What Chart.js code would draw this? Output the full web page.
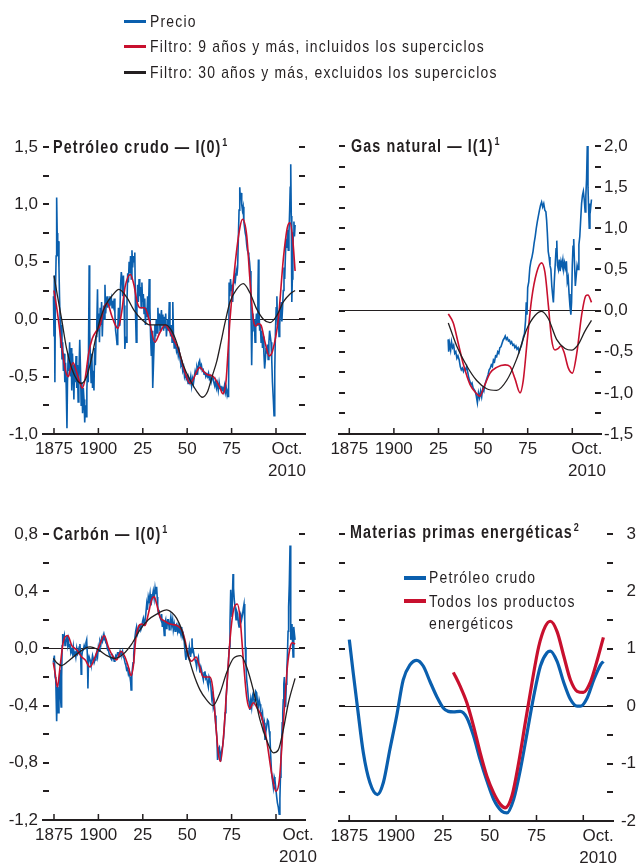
<!DOCTYPE html>
<html>
<head>
<meta charset="utf-8">
<script src="https://cdn.jsdelivr.net/npm/chart.js@4/dist/chart.umd.min.js"></script>
<style>
  body { margin: 0; background: #fff; width: 636px; height: 864px; position: relative; overflow: hidden;
         font-family: 'Liberation Sans', Arial, sans-serif; color: #231f20; }
  canvas { position: absolute; left: 0; top: 0; }
  .t { position: absolute; white-space: nowrap; font-size: 17px; line-height: 17px; letter-spacing: 1.45px;
       transform: scaleX(0.82); transform-origin: 0 0; }
  .h { position: absolute; white-space: nowrap; font-size: 17.5px; line-height: 17.5px; letter-spacing: 1.35px;
       font-weight: bold; transform: scaleX(0.82); transform-origin: 0 0; }
  .s { font-size: 11px; line-height: 0; position: relative; top: -7px; letter-spacing: 0; margin-left: 1px; }
  .k { position: absolute; width: 22px; height: 3px; }
</style>
</head>
<body>
<canvas id="oil" width="636" height="864"></canvas>
<canvas id="gas" width="636" height="864"></canvas>
<canvas id="coal" width="636" height="864"></canvas>
<canvas id="energy" width="636" height="864"></canvas>

<!-- leyenda general -->
<div class="k" style="left:124px;top:19.8px;background:#0a5fae"></div>
<div class="t" style="left:150px;top:13px">Precio</div>
<div class="k" style="left:124px;top:44.5px;background:#c8102e"></div>
<div class="t" style="left:150px;top:37.7px">Filtro: 9 años y más, incluidos los superciclos</div>
<div class="k" style="left:124px;top:70.5px;background:#231f20"></div>
<div class="t" style="left:150px;top:63.7px">Filtro: 30 años y más, excluidos los superciclos</div>

<!-- títulos -->
<div class="h" style="left:53px;top:138.5px">Petróleo crudo — I(0)<span class="s">1</span></div>
<div class="h" style="left:351px;top:137.5px">Gas natural — I(1)<span class="s">1</span></div>
<div class="h" style="left:53px;top:525.5px">Carbón — I(0)<span class="s">1</span></div>
<div class="h" style="left:350px;top:523.5px">Materias primas energéticas<span class="s">2</span></div>

<!-- leyenda del último panel -->
<div class="k" style="left:404px;top:575.5px;height:4px;background:#0a5fae"></div>
<div class="t" style="left:429px;top:569px">Petróleo crudo</div>
<div class="k" style="left:404px;top:599px;height:4px;background:#c8102e"></div>
<div class="t" style="left:429px;top:593px">Todos los productos</div>
<div class="t" style="left:429px;top:614.6px">energéticos</div>

<script>
// Ejes compartidos
const xTickYears = [1875, 1900, 1925, 1950, 1975, 2000];
const xTickLabels = ['1875', '1900', '25', '50', '75', ['Oct.', '2010']];

// Petróleo crudo
const oilYTicks = [-1, -0.75, -0.5, -0.25, 0, 0.25, 0.5, 0.75, 1, 1.25, 1.5];
const oilYLabels = ['-1,0', '', '-0,5', '', '0,0', '', '0,5', '', '1,0', '', '1,5'];
const oilPrice = [
  [1874.7,0.2],[1875.0,-0.15],[1875.2,0.38],[1875.5,-0.55],[1875.8,0.2],[1876.2,0.55],[1876.5,1.06],[1876.8,0.75],
  [1877.1,0.55],[1877.4,0.68],[1877.8,0.45],[1878.1,0.2],[1878.4,0.02],[1878.8,-0.25],[1879.1,-0.05],[1879.5,-0.35],
  [1879.9,-0.2],[1880.3,-0.45],[1880.7,-0.3],[1881.1,-0.55],[1881.5,-0.38],[1881.9,-0.6],[1882.3,-0.95],[1882.6,-0.55],
  [1883.0,-0.3],[1883.4,-0.45],[1883.8,-0.2],[1884.2,-0.5],[1884.6,-0.25],[1885.0,-0.62],[1885.4,-0.3],[1885.8,-0.45],
  [1886.2,-0.7],[1886.6,-0.4],[1887.0,-0.55],[1887.4,-0.32],[1887.8,-0.6],[1888.2,-0.4],[1888.6,-0.72],[1889.0,-0.5],
  [1889.5,-0.18],[1889.9,-0.42],[1890.3,-0.75],[1890.7,-0.55],[1891.1,-0.82],[1891.5,-0.6],[1891.9,-0.7],[1892.3,-0.9],
  [1892.7,-0.75],[1893.1,-0.85],[1893.5,-0.62],[1893.9,-0.4],[1894.3,-0.55],[1894.8,0.47],[1895.1,-0.1],[1895.5,-0.35],
  [1895.9,-0.55],[1896.3,-0.3],[1896.7,-0.6],[1897.1,-0.45],[1897.5,-0.62],[1897.9,-0.25],[1898.3,-0.4],[1898.7,-0.15],
  [1899.1,-0.05],[1899.5,0.26],[1899.8,-0.1],[1900.2,0.05],[1900.6,-0.2],[1901.0,0.1],[1901.4,-0.05],[1901.8,0.15],
  [1902.2,-0.15],[1902.6,0.05],[1903.0,0.12],[1903.4,0.0],[1903.7,0.3],[1904.1,0.05],[1904.5,0.15],[1904.9,0.2],
  [1905.3,0.1],[1905.7,0.18],[1906.1,0.12],[1906.5,0.2],[1906.9,0.15],[1907.3,0.18],[1907.7,0.1],[1908.1,0.16],
  [1908.5,0.12],[1908.9,0.18],[1909.3,0.05],[1909.7,-0.1],[1910.1,-0.15],[1910.5,-0.22],[1910.9,-0.1],[1911.3,0.1],
  [1911.7,-0.05],[1912.1,0.05],[1912.5,0.3],[1912.9,0.41],[1913.3,0.35],[1913.7,0.2],[1914.1,0.38],[1914.5,0.12],
  [1914.9,-0.26],[1915.3,-0.15],[1915.7,-0.2],[1916.1,0.15],[1916.5,0.4],[1916.9,0.32],[1917.3,0.5],[1917.7,0.4],
  [1918.1,0.55],[1918.5,0.35],[1918.9,0.6],[1919.3,0.45],[1919.7,0.55],[1920.1,0.5],[1920.5,0.58],[1920.9,0.05],
  [1921.3,-0.2],[1921.7,0.1],[1922.1,0.3],[1922.5,0.15],[1922.9,0.35],[1923.3,0.2],[1923.7,0.28],[1924.1,0.1],
  [1924.5,0.32],[1924.9,0.15],[1925.3,0.22],[1925.7,0.05],[1926.1,0.18],[1926.5,-0.05],[1926.9,0.1],[1927.3,0.02],
  [1927.7,0.2],[1928.1,0.0],[1928.6,0.35],[1929.0,0.1],[1929.4,-0.15],[1929.8,-0.32],[1930.2,-0.1],[1930.6,-0.6],
  [1931.0,-0.4],[1931.4,-0.2],[1931.8,-0.05],[1932.2,-0.15],[1932.6,0.0],[1933.0,-0.12],[1933.5,0.1],[1933.9,-0.05],
  [1934.3,0.05],[1934.7,-0.1],[1935.1,0.0],[1935.5,0.08],[1935.9,-0.05],[1936.3,0.04],[1936.7,-0.1],[1937.1,0.02],
  [1937.5,-0.08],[1937.9,0.05],[1938.3,-0.15],[1938.7,-0.05],[1939.1,0.0],[1939.5,-0.1],[1939.9,0.15],[1940.3,-0.1],
  [1940.7,-0.15],[1941.1,-0.05],[1941.5,-0.2],[1941.9,0.15],[1942.3,-0.15],[1942.7,-0.25],[1943.1,-0.2],[1943.5,-0.22],
  [1944.0,-0.28],[1944.5,-0.25],[1945.0,-0.32],[1945.5,-0.28],[1946.0,-0.35],[1946.5,-0.4],[1947.0,-0.38],[1947.5,-0.45],
  [1948.0,-0.42],[1948.5,-0.5],[1949.0,-0.47],[1949.5,-0.52],[1950.0,-0.5],[1950.5,-0.56],[1951.0,-0.52],[1951.5,-0.55],
  [1952.0,-0.5],[1952.5,-0.58],[1953.0,-0.52],[1953.5,-0.56],[1954.0,-0.5],[1954.5,-0.45],[1955.0,-0.48],[1955.5,-0.42],
  [1956.0,-0.45],[1956.5,-0.38],[1957.0,-0.36],[1957.5,-0.42],[1958.0,-0.4],[1958.5,-0.45],[1959.0,-0.44],[1959.5,-0.48],
  [1960.0,-0.46],[1960.5,-0.5],[1961.0,-0.48],[1961.5,-0.5],[1962.0,-0.47],[1962.5,-0.52],[1963.0,-0.5],[1963.5,-0.55],
  [1964.0,-0.52],[1964.5,-0.5],[1965.0,-0.55],[1965.5,-0.58],[1966.0,-0.54],[1966.5,-0.6],[1967.0,-0.56],[1967.5,-0.62],
  [1968.0,-0.55],[1968.5,-0.6],[1969.0,-0.58],[1969.5,-0.62],[1970.0,-0.6],[1970.5,-0.63],[1971.0,-0.58],[1971.5,-0.64],
  [1972.0,-0.6],[1972.5,-0.66],[1973.0,-0.62],[1973.3,-0.68],[1973.6,0.32],[1974.0,0.2],[1974.4,0.35],[1974.8,0.25],
  [1975.2,0.3],[1975.6,0.15],[1976.0,0.3],[1976.4,0.32],[1976.8,0.4],[1977.2,0.35],[1977.6,0.42],[1978.0,0.38],
  [1978.4,0.45],[1978.8,0.7],[1979.2,0.95],[1979.6,1.15],[1979.9,1.05],[1980.3,1.1],[1980.7,1.0],[1981.1,0.95],
  [1981.5,0.98],[1981.9,0.85],[1982.3,0.8],[1982.7,0.75],[1983.1,0.72],[1983.5,0.65],[1983.9,0.6],[1984.3,0.58],
  [1984.7,0.55],[1985.1,0.5],[1985.5,0.42],[1985.9,0.15],[1986.3,-0.4],[1986.6,-0.1],[1987.0,0.05],[1987.4,-0.05],
  [1987.8,0.0],[1988.2,-0.2],[1988.6,-0.05],[1989.0,0.05],[1989.4,-0.05],[1989.8,0.2],[1990.1,0.52],[1990.4,0.1],
  [1990.8,-0.1],[1991.2,-0.05],[1991.6,-0.2],[1992.0,-0.1],[1992.4,-0.25],[1992.8,-0.15],[1993.2,-0.3],[1993.6,-0.43],
  [1994.0,-0.35],[1994.4,-0.25],[1994.8,-0.3],[1995.2,-0.22],[1995.6,-0.35],[1996.0,-0.2],[1996.4,-0.1],[1996.8,-0.15],
  [1997.2,-0.2],[1997.6,-0.35],[1998.0,-0.55],[1998.5,-0.7],[1998.9,-0.84],[1999.3,-0.45],[1999.7,-0.1],[2000.1,0.1],
  [2000.5,0.2],[2000.9,-0.05],[2001.3,0.05],[2001.7,-0.15],[2002.1,-0.05],[2002.5,0.08],[2002.9,0.15],[2003.3,-0.02],
  [2003.7,0.1],[2004.1,0.25],[2004.5,0.45],[2004.9,0.35],[2005.3,0.55],[2005.7,0.7],[2006.1,0.62],[2006.5,0.78],
  [2006.9,0.6],[2007.3,0.75],[2007.7,0.95],[2008.0,1.15],[2008.3,1.35],[2008.6,0.9],[2008.9,0.15],[2009.2,0.35],
  [2009.5,0.6],[2009.8,0.75],[2010.1,0.85],[2010.4,0.72],[2010.75,0.82]
];
const oilFilter9 = [
  [1875,0.25],[1877,0.05],[1879.5,-0.25],[1881.5,-0.45],[1883,-0.5],[1884.5,-0.42],[1885.8,-0.38],[1887.5,-0.45],
  [1889.5,-0.55],[1891,-0.6],[1892.5,-0.52],[1894.5,-0.3],[1896.5,-0.17],[1899,-0.1],[1901,-0.05],[1903,0.09],
  [1905,0.14],[1907.5,0.03],[1909.5,-0.05],[1911,-0.08],[1913,0.05],[1915,0.28],[1918,0.39],[1920,0.3],
  [1921.8,0.15],[1923.4,0.1],[1926,0.1],[1928.5,0.0],[1931.8,-0.2],[1934.5,-0.12],[1937.5,-0.05],[1940.3,-0.11],
  [1942.5,-0.18],[1945,-0.26],[1948.7,-0.46],[1951.6,-0.56],[1953.5,-0.52],[1955.5,-0.45],[1957.2,-0.42],[1959,-0.45],
  [1961,-0.48],[1964.7,-0.5],[1968.5,-0.6],[1970,-0.65],[1971.8,-0.55],[1974.1,0.0],[1976.9,0.47],[1979.7,0.8],
  [1981.2,0.87],[1983.5,0.73],[1985.3,0.35],[1987.2,0.0],[1988.5,-0.06],[1990,-0.04],[1991.5,-0.05],[1993.8,-0.2],
  [1996.2,-0.32],[1998,-0.28],[2001.3,0.0],[2004.1,0.52],[2006.4,0.8],[2007.9,0.84],[2009.4,0.7],[2010.75,0.42]
];
const oilFilter30 = [
  [1875,0.38],[1877,0.2],[1879.3,0.0],[1882,-0.25],[1885,-0.43],[1888,-0.53],[1890.5,-0.56],[1893.4,-0.5],
  [1896,-0.35],[1898,-0.2],[1901,0.0],[1904,0.12],[1907.5,0.2],[1911.6,0.26],[1916,0.19],[1920,0.08],
  [1924.3,0.0],[1929,-0.05],[1933,-0.05],[1938,-0.05],[1941.2,-0.1],[1944,-0.2],[1947.8,-0.4],[1952,-0.54],
  [1955.5,-0.63],[1958.5,-0.68],[1961.5,-0.63],[1964,-0.5],[1966.6,-0.37],[1969,-0.2],[1971.3,-0.03],[1974.1,0.15],
  [1977.8,0.26],[1981.6,0.31],[1985.3,0.23],[1989.1,0.09],[1992.9,0.0],[1996.6,-0.03],[2000.4,0.03],[2004.1,0.15],
  [2007.9,0.22],[2010.75,0.25]
];

// Gas natural
const gasYTicks = [-1.5, -1.25, -1, -0.75, -0.5, -0.25, 0, 0.25, 0.5, 0.75, 1, 1.25, 1.5, 1.75, 2];
const gasYLabels = ['-1,5', '', '-1,0', '', '-0,5', '', '0,0', '', '0,5', '', '1,0', '', '1,5', '', '2,0'];
const gasPrice = [
  [1930.4,-0.35],[1930.7,-0.5],[1931.2,-0.4],[1931.8,-0.48],[1932.3,-0.38],[1932.9,-0.45],[1933.5,-0.42],[1934.1,-0.52],
  [1934.7,-0.5],[1935.3,-0.58],[1935.9,-0.55],[1936.6,-0.6],[1937.2,-0.68],[1937.8,-0.72],[1938.4,-0.7],[1939.0,-0.74],
  [1939.6,-0.7],[1940.2,-0.72],[1940.8,-0.68],[1941.4,-0.75],[1942.0,-0.82],[1942.6,-0.86],[1943.2,-0.9],[1943.8,-0.88],
  [1944.4,-0.94],[1945.0,-0.96],[1945.6,-0.98],[1946.2,-1.04],[1946.8,-1.12],[1947.4,-1.0],[1948.0,-1.06],[1948.6,-0.98],
  [1949.2,-1.05],[1949.8,-0.95],[1950.4,-0.98],[1951.0,-0.9],[1951.6,-0.86],[1952.2,-0.82],[1952.8,-0.78],[1953.4,-0.72],
  [1954.0,-0.7],[1954.6,-0.66],[1955.2,-0.68],[1955.8,-0.6],[1956.4,-0.62],[1957.0,-0.55],[1957.6,-0.56],[1958.2,-0.5],
  [1958.8,-0.52],[1959.4,-0.45],[1960.0,-0.44],[1960.6,-0.4],[1961.2,-0.36],[1961.8,-0.34],[1962.4,-0.31],[1963.0,-0.35],
  [1963.6,-0.33],[1964.2,-0.37],[1964.8,-0.36],[1965.4,-0.4],[1966.0,-0.38],[1966.6,-0.42],[1967.2,-0.41],[1967.8,-0.45],
  [1968.4,-0.43],[1969.0,-0.47],[1969.6,-0.45],[1970.2,-0.5],[1970.8,-0.46],[1971.4,-0.43],[1972.0,-0.38],[1972.6,-0.32],
  [1973.2,-0.28],[1973.8,-0.12],[1974.2,0.1],[1974.6,-0.05],[1975.0,0.28],[1975.6,0.35],[1976.2,0.52],[1976.8,0.6],
  [1977.4,0.65],[1978.0,0.72],[1978.6,0.82],[1979.2,0.9],[1979.8,1.0],[1980.4,1.08],[1981.0,1.15],[1981.6,1.22],
  [1982.2,1.28],[1982.8,1.32],[1983.4,1.26],[1984.0,1.3],[1984.6,1.22],[1985.2,1.2],[1985.6,1.1],[1986.0,0.95],
  [1986.5,0.72],[1987.0,0.65],[1987.5,0.55],[1988.0,0.5],[1988.5,0.3],[1989.0,0.18],[1989.4,0.1],[1989.9,0.35],
  [1990.4,0.55],[1990.9,0.75],[1991.3,0.85],[1991.7,0.55],[1992.2,0.5],[1992.7,0.62],[1993.2,0.48],[1993.7,0.6],
  [1994.2,0.55],[1994.7,0.62],[1995.2,0.5],[1995.7,0.58],[1996.2,0.52],[1996.7,0.6],[1997.2,0.35],[1997.7,0.4],
  [1998.2,0.2],[1998.7,0.05],[1999.2,-0.05],[1999.6,0.1],[2000.0,0.55],[2000.4,0.78],[2000.8,0.87],[2001.2,0.6],
  [2001.7,0.3],[2002.2,0.42],[2002.7,0.55],[2003.2,0.5],[2003.7,0.8],[2004.2,0.9],[2004.7,1.1],[2005.2,1.3],
  [2005.7,1.4],[2006.2,1.45],[2006.7,1.35],[2007.2,1.2],[2007.6,1.4],[2008.0,1.6],[2008.4,2.0],[2008.8,1.5],
  [2009.2,1.2],[2009.5,1.0],[2009.9,1.3],[2010.3,1.25],[2010.75,1.35]
];
const gasFilter9 = [
  [1930.5,-0.04],[1933.3,-0.15],[1936.1,-0.4],[1938.9,-0.65],[1942.7,-0.9],[1946.4,-1.01],[1948.2,-1.04],[1950.1,-0.95],
  [1953.9,-0.76],[1957.6,-0.69],[1962.3,-0.66],[1965.1,-0.68],[1967.9,-0.83],[1970.7,-1.0],[1972.5,-0.85],[1974.8,-0.35],
  [1977.2,0.14],[1980,0.46],[1982.8,0.58],[1984.7,0.46],[1986.6,0.06],[1988.4,-0.35],[1990.3,-0.48],[1992.2,-0.46],
  [1993.5,-0.43],[1995.3,-0.5],[1997.8,-0.7],[2000,-0.76],[2002.5,-0.52],[2005.2,-0.06],[2007.6,0.18],[2008.8,0.19],
  [2010.75,0.1]
];
const gasFilter30 = [
  [1930.5,-0.15],[1935.2,-0.43],[1940.8,-0.67],[1946.4,-0.85],[1952,-0.95],[1957.6,-0.97],[1963.2,-0.85],[1968.8,-0.59],
  [1974.4,-0.23],[1979.1,-0.06],[1982.8,-0.01],[1986.6,-0.1],[1991.2,-0.35],[1995.9,-0.46],[1999.6,-0.48],[2003.4,-0.41],
  [2007.1,-0.25],[2010.75,-0.12]
];

// Carbón
const coalYTicks = [-1.2, -1, -0.8, -0.6, -0.4, -0.2, 0, 0.2, 0.4, 0.6, 0.8];
const coalYLabels = ['-1,2', '', '-0,8', '', '-0,4', '', '0,0', '', '0,4', '', '0,8'];
const coalPrice = [
  [1874.6,-0.1],[1875.2,-0.05],[1875.6,-0.2],[1876.0,-0.22],[1876.5,-0.51],[1876.8,-0.3],[1877.0,-0.27],[1877.4,-0.45],
  [1877.8,-0.36],[1878.1,-0.2],[1878.4,-0.15],[1878.7,-0.35],[1879.0,-0.41],[1879.3,-0.2],[1879.6,0.02],[1879.9,0.1],
  [1880.3,0.06],[1880.8,0.09],[1881.2,0.02],[1881.6,0.04],[1882.0,0.07],[1882.3,0.09],[1882.7,0.03],[1883.0,0.06],
  [1883.5,0.01],[1884.0,0.03],[1884.5,-0.03],[1885.0,-0.01],[1885.5,-0.04],[1885.9,0.01],[1886.4,-0.05],[1886.8,-0.02],
  [1887.3,-0.06],[1887.8,0.0],[1888.3,-0.04],[1888.7,-0.03],[1889.2,0.01],[1889.6,0.03],[1890.0,-0.05],[1890.3,-0.18],
  [1890.6,-0.06],[1891.0,-0.02],[1891.5,-0.01],[1892.0,0.02],[1892.5,0.0],[1893.0,0.04],[1893.4,0.06],[1893.8,-0.05],
  [1894.1,-0.28],[1894.4,-0.1],[1894.8,-0.06],[1895.3,-0.08],[1895.8,-0.11],[1896.2,-0.1],[1896.7,-0.05],[1897.1,-0.07],
  [1897.6,-0.1],[1898.1,-0.08],[1898.6,-0.05],[1899.0,-0.03],[1899.5,-0.06],[1900.0,0.01],[1900.5,-0.02],[1900.9,0.05],
  [1901.4,0.03],[1901.8,0.07],[1902.3,0.05],[1902.8,0.09],[1903.2,0.06],[1903.7,0.07],[1904.2,0.04],[1904.7,0.03],
  [1905.2,-0.01],[1905.6,-0.01],[1906.1,-0.04],[1906.5,-0.05],[1907.0,-0.07],[1907.5,-0.08],[1908.0,-0.05],[1908.4,-0.06],
  [1908.9,-0.09],[1909.3,-0.08],[1909.8,-0.05],[1910.3,-0.06],[1910.8,-0.03],[1911.2,-0.03],[1911.7,-0.05],[1912.2,-0.02],
  [1912.6,-0.04],[1913.1,-0.04],[1913.6,-0.02],[1914.0,-0.06],[1914.5,-0.07],[1915.0,-0.1],[1915.5,-0.12],[1915.9,-0.15],
  [1916.4,-0.14],[1916.9,-0.18],[1917.4,-0.16],[1917.8,-0.2],[1918.2,-0.24],[1918.4,-0.29],[1918.8,-0.2],[1919.1,-0.15],
  [1919.5,-0.1],[1919.9,-0.04],[1920.3,0.03],[1920.6,0.08],[1921.0,0.12],[1921.5,0.15],[1922.0,0.1],[1922.5,0.12],
  [1923.0,0.16],[1923.4,0.17],[1923.9,0.13],[1924.4,0.15],[1924.9,0.19],[1925.3,0.21],[1925.8,0.17],[1926.2,0.19],
  [1926.7,0.24],[1927.2,0.31],[1927.6,0.27],[1928.1,0.36],[1928.6,0.33],[1929.1,0.38],[1929.6,0.3],[1930.0,0.34],
  [1930.5,0.37],[1930.9,0.4],[1931.4,0.35],[1931.9,0.42],[1932.3,0.38],[1932.8,0.43],[1933.1,0.36],[1933.4,0.3],
  [1933.8,0.24],[1934.1,0.27],[1934.6,0.22],[1935.2,0.2],[1935.6,0.24],[1936.0,0.15],[1936.5,0.2],[1937.1,0.09],
  [1937.5,0.18],[1937.9,0.2],[1938.3,0.14],[1938.6,0.15],[1939.0,0.2],[1939.4,0.2],[1939.9,0.13],[1940.3,0.17],
  [1940.8,0.22],[1941.3,0.16],[1941.8,0.2],[1942.2,0.13],[1942.7,0.17],[1943.2,0.12],[1943.6,0.16],[1944.1,0.17],
  [1944.6,0.12],[1945.0,0.15],[1945.5,0.11],[1945.9,0.13],[1946.4,0.1],[1946.9,0.15],[1947.3,0.08],[1947.8,0.1],
  [1948.3,0.05],[1948.7,-0.01],[1949.0,-0.05],[1949.3,-0.08],[1949.7,-0.02],[1950.1,-0.04],[1950.6,-0.06],[1951.2,0.01],
  [1951.6,-0.03],[1951.9,-0.06],[1952.3,0.0],[1952.7,0.07],[1953.0,-0.02],[1953.4,-0.01],[1953.9,-0.05],[1954.4,-0.08],
  [1954.9,-0.1],[1955.3,-0.13],[1955.8,-0.08],[1956.3,-0.06],[1956.7,-0.12],[1957.2,-0.17],[1957.7,-0.13],[1958.1,-0.15],
  [1958.6,-0.19],[1959.1,-0.22],[1959.5,-0.17],[1960.0,-0.16],[1960.5,-0.21],[1960.9,-0.2],[1961.4,-0.24],[1961.9,-0.27],
  [1962.3,-0.2],[1962.8,-0.22],[1963.3,-0.26],[1963.8,-0.34],[1964.2,-0.3],[1964.7,-0.41],[1965.2,-0.38],[1965.7,-0.47],
  [1966.2,-0.55],[1966.7,-0.62],[1967.1,-0.78],[1967.6,-0.7],[1968.1,-0.69],[1968.5,-0.75],[1968.8,-0.79],[1969.3,-0.72],
  [1970.0,-0.68],[1970.5,-0.62],[1970.9,-0.55],[1971.4,-0.45],[1971.8,-0.36],[1972.3,-0.28],[1972.8,-0.17],[1973.2,-0.1],
  [1973.7,0.01],[1974.1,0.18],[1974.5,0.41],[1974.9,0.3],[1975.2,0.22],[1975.5,0.38],[1975.8,0.52],[1976.1,0.42],
  [1976.5,0.34],[1977.0,0.28],[1977.5,0.2],[1977.9,0.26],[1978.4,0.24],[1978.8,0.18],[1979.2,0.15],[1979.6,0.22],
  [1980.1,0.24],[1980.6,0.2],[1981.2,0.24],[1981.6,0.28],[1982.0,0.31],[1982.4,0.2],[1982.7,0.01],[1983.1,-0.12],
  [1983.5,-0.22],[1984.0,-0.28],[1984.4,-0.34],[1984.9,-0.38],[1985.3,-0.43],[1985.8,-0.36],[1986.3,-0.41],[1986.8,-0.33],
  [1987.2,-0.31],[1987.7,-0.38],[1988.2,-0.36],[1988.6,-0.3],[1989.1,-0.31],[1989.6,-0.38],[1990.0,-0.41],[1990.5,-0.36],
  [1991.0,-0.39],[1991.4,-0.44],[1991.9,-0.48],[1992.4,-0.45],[1992.9,-0.55],[1993.4,-0.52],[1993.8,-0.64],[1994.3,-0.58],
  [1994.7,-0.55],[1995.2,-0.5],[1995.7,-0.51],[1996.2,-0.58],[1996.6,-0.62],[1997.0,-0.75],[1997.5,-0.87],[1998.0,-0.92],
  [1998.5,-0.97],[1999.0,-0.9],[1999.4,-0.92],[1999.9,-0.98],[2000.4,-1.04],[2000.8,-1.08],[2001.3,-1.11],[2001.8,-1.16],
  [2002.2,-1.05],[2002.5,-0.9],[2002.8,-0.76],[2003.2,-0.65],[2003.5,-0.52],[2003.8,-0.45],[2004.1,-0.36],[2004.4,-0.25],
  [2004.7,-0.2],[2005.1,-0.38],[2005.4,-0.41],[2005.8,-0.25],[2006.1,-0.15],[2006.4,-0.06],[2006.8,0.12],[2007.1,0.29],
  [2007.5,0.45],[2007.9,0.72],[2008.2,0.35],[2008.4,0.06],[2008.7,0.12],[2009.0,0.17],[2009.3,0.05],[2009.6,-0.06],
  [2009.9,0.08],[2010.1,0.15],[2010.4,0.1],[2010.75,0.06]
];
const coalFilter9 = [
  [1874.6,-0.1],[1875.6,-0.17],[1876.9,-0.27],[1878.4,-0.13],[1880.3,0.05],[1882.7,0.09],[1885,0.02],[1887.8,-0.01],
  [1890.6,-0.06],[1892.5,-0.08],[1895.3,-0.13],[1898.1,-0.06],[1900.9,0.03],[1903.3,0.09],[1905.6,0.01],[1908.4,-0.06],
  [1910.3,-0.08],[1912.7,-0.02],[1915,-0.06],[1916.9,-0.13],[1918.4,-0.19],[1919.7,-0.12],[1921,0.06],[1922.5,0.15],
  [1924.4,0.17],[1926.2,0.16],[1928.1,0.24],[1930,0.34],[1931.5,0.36],[1932.8,0.31],[1934.7,0.22],[1937.5,0.19],
  [1940.3,0.17],[1944.1,0.16],[1946.9,0.13],[1948.7,0.06],[1950.6,-0.05],[1952.5,-0.09],[1955,-0.06],[1956.8,-0.12],
  [1959.1,-0.2],[1960.9,-0.2],[1962.8,-0.2],[1964.3,-0.27],[1966.2,-0.55],[1967.5,-0.73],[1968.8,-0.79],[1970.3,-0.64],
  [1972.2,-0.29],[1974.1,0.06],[1976.3,0.28],[1978.2,0.31],[1979.7,0.22],[1981.6,-0.08],[1983.5,-0.34],[1985.3,-0.42],
  [1987.2,-0.38],[1989.5,-0.42],[1991.9,-0.48],[1994.7,-0.64],[1997.5,-0.87],[2000,-1.0],[2001.9,-0.92],[2004.1,-0.53],
  [2006.4,-0.13],[2008.2,0.02],[2009.4,0.04],[2010.75,0.03]
];
const coalFilter30 = [
  [1874.6,-0.07],[1876.5,-0.1],[1879.3,-0.12],[1883,-0.09],[1887.8,-0.04],[1892.5,0.0],[1895.3,0.01],[1900,-0.01],
  [1904.7,-0.05],[1909.3,-0.07],[1914,-0.04],[1918.7,0.03],[1923.4,0.13],[1928.1,0.2],[1932.8,0.24],[1938.5,0.27],
  [1941.5,0.25],[1944.1,0.21],[1946.9,0.13],[1949.7,-0.01],[1953.4,-0.17],[1957.2,-0.29],[1960.9,-0.36],[1964.5,-0.4],
  [1968.5,-0.31],[1972.2,-0.17],[1976,-0.07],[1980.1,-0.05],[1983.5,-0.13],[1987.2,-0.29],[1991,-0.5],[1994.7,-0.64],
  [1998.5,-0.73],[2001.3,-0.71],[2004.1,-0.57],[2007,-0.38],[2010.75,-0.21]
];

// Materias primas energéticas
const energyYTicks = [-2, -1.5, -1, -0.5, 0, 0.5, 1, 1.5, 2, 2.5, 3];
const energyYLabels = ['-2', '', '-1', '', '0', '', '1', '', '2', '', '3'];
const energyOil = [
  [1875,1.16],[1877.1,0.58],[1879.3,0.0],[1882.5,-0.81],[1886,-1.33],[1890,-1.54],[1893.2,-1.33],[1896.7,-0.75],
  [1900.3,-0.17],[1903.8,0.46],[1907.4,0.72],[1911,0.8],[1914.5,0.7],[1918.1,0.43],[1921.7,0.17],[1925.2,-0.03],
  [1927.9,-0.09],[1930.6,-0.1],[1934.2,-0.09],[1937.8,-0.2],[1941.4,-0.52],[1944.9,-0.93],[1948.5,-1.3],[1952.1,-1.62],
  [1956.5,-1.83],[1959.2,-1.86],[1962.8,-1.62],[1966.4,-1.1],[1970,-0.46],[1973.5,0.17],[1977.1,0.7],[1980.6,0.93],
  [1982.4,0.96],[1986,0.78],[1989.6,0.41],[1993.1,0.12],[1996.7,0.0],[1998.5,0.0],[2002,0.14],[2005.6,0.46],
  [2009.2,0.72],[2010.75,0.78]
];
const energyAll = [
  [1930.6,0.59],[1934.2,0.35],[1937.8,0.06],[1941.4,-0.35],[1944.9,-0.81],[1948.5,-1.22],[1952.1,-1.51],[1955.7,-1.71],
  [1958.3,-1.77],[1961.9,-1.56],[1965.5,-0.98],[1969,-0.29],[1972.6,0.41],[1976.2,1.04],[1979.7,1.39],[1982.4,1.48],
  [1986,1.3],[1989.6,0.87],[1993.1,0.46],[1996.7,0.26],[2000,0.24],[2003.9,0.43],[2007.5,0.81],[2010.75,1.2]
];

const W = 636, H = 864;
const ink = '#231f20';
const blue = '#0a5fae';
const red = '#c8102e';

Chart.defaults.font.family = "'Liberation Sans', Arial, sans-serif";
Chart.defaults.color = ink;

// marcas de escala hacia dentro, en los cuatro paneles
const innerTicks = {
  id: 'innerTicks',
  beforeDatasetsDraw(chart) {
    const {ctx, chartArea: a, scales: {x, y}} = chart;
    ctx.save();
    ctx.strokeStyle = ink;
    ctx.lineWidth = 2;
    ctx.beginPath();
    y.ticks.forEach(t => {
      const py = Math.round(y.getPixelForValue(t.value));
      ctx.moveTo(a.left, py); ctx.lineTo(a.left + 6, py);
      ctx.moveTo(a.right - 6, py); ctx.lineTo(a.right, py);
    });
    ctx.stroke();
    ctx.lineWidth = 1.5;
    ctx.beginPath();
    xTickYears.forEach(v => {
      const px = x.getPixelForValue(v);
      ctx.moveTo(px, a.bottom); ctx.lineTo(px, a.bottom - 6);
    });
    ctx.stroke();
    ctx.restore();
  }
};

function line(data, color, width, smooth, order) {
  return {
    data: data, borderColor: color, borderWidth: width, pointRadius: 0, fill: false, order: order,
    tension: 0, cubicInterpolationMode: smooth ? 'monotone' : 'default'
  };
}

function panel(id, area, xMin, xMax, octYear, yTicks, yLabels, side, yPad, datasets) {
  const yAxisW = side === 'left' ? area.left : W - area.right;
  // el eje x necesita sitio para la segunda línea ("2010"), que de otro modo queda recortada
  const xAxisH = Math.min(50, H - area.bottom);
  new Chart(document.getElementById(id), {
    type: 'line',
    data: { datasets: datasets },
    options: {
      responsive: false,
      animation: false,
      events: [],
      layout: {
        padding: {
          left: side === 'left' ? 0 : area.left,
          right: side === 'left' ? W - area.right : 0,
          top: area.top,
          bottom: H - area.bottom - xAxisH
        }
      },
      plugins: { legend: { display: false }, tooltip: { enabled: false } },
      scales: {
        x: {
          type: 'linear', min: xMin, max: xMax,
          afterFit: s => { s.height = xAxisH; },
          afterBuildTicks: s => {
            s.ticks = xTickYears.slice(0, 5).concat([octYear]).map(v => ({ value: v }));
          },
          grid: { drawTicks: false, color: 'rgba(0,0,0,0)' },
          border: { display: true, color: ink, width: 2 },
          ticks: {
            autoSkip: false, maxRotation: 0, padding: 5, color: ink,
            font: { size: 17, lineHeight: 1.25 },
            callback: (v, i) => xTickLabels[i]
          }
        },
        y: {
          position: side, min: yTicks[0], max: yTicks[yTicks.length - 1],
          afterFit: s => { s.width = yAxisW; },
          afterBuildTicks: s => { s.ticks = yTicks.map(v => ({ value: v })); },
          grid: {
            drawTicks: false, lineWidth: 1,
            color: c => (c.tick && c.tick.value === 0) ? ink : 'rgba(0,0,0,0)'
          },
          border: { display: false },
          ticks: {
            autoSkip: false, padding: yPad, color: ink,
            crossAlign: id === 'energy' ? 'far' : 'near',
            font: { size: 17 },
            callback: (v, i) => yLabels[i]
          }
        }
      }
    },
    plugins: [innerTicks]
  });
}

panel('oil', { left: 43, right: 305, top: 147, bottom: 434 }, 1868.81, 2016.33, 2006.2,
  oilYTicks, oilYLabels, 'left', 5, [
    line(oilFilter30, ink, 1.3, true, 0),
    line(oilFilter9, red, 1.6, true, 1),
    line(oilPrice, blue, 1.6, false, 2)
  ]);

panel('gas', { left: 339, right: 601, top: 146, bottom: 434 }, 1869.23, 2016.09, 2008.2,
  gasYTicks, gasYLabels, 'right', 3, [
    line(gasFilter30, ink, 1.3, true, 0),
    line(gasFilter9, red, 1.6, true, 1),
    line(gasPrice, blue, 1.6, false, 2)
  ]);

panel('coal', { left: 43, right: 305, top: 534, bottom: 820 }, 1868.81, 2016.33, 2012.4,
  coalYTicks, coalYLabels, 'left', 5, [
    line(coalFilter30, ink, 1.3, true, 0),
    line(coalFilter9, red, 1.6, true, 1),
    line(coalPrice, blue, 1.6, false, 2)
  ]);

panel('energy', { left: 339, right: 613, top: 534, bottom: 821 }, 1869.5, 2015.87, 2007.9,
  energyYTicks, energyYLabels, 'right', 3, [
    line(energyAll, red, 3.2, true, 0),
    line(energyOil, blue, 3.2, true, 1)
  ]);
</script>
</body>
</html>
